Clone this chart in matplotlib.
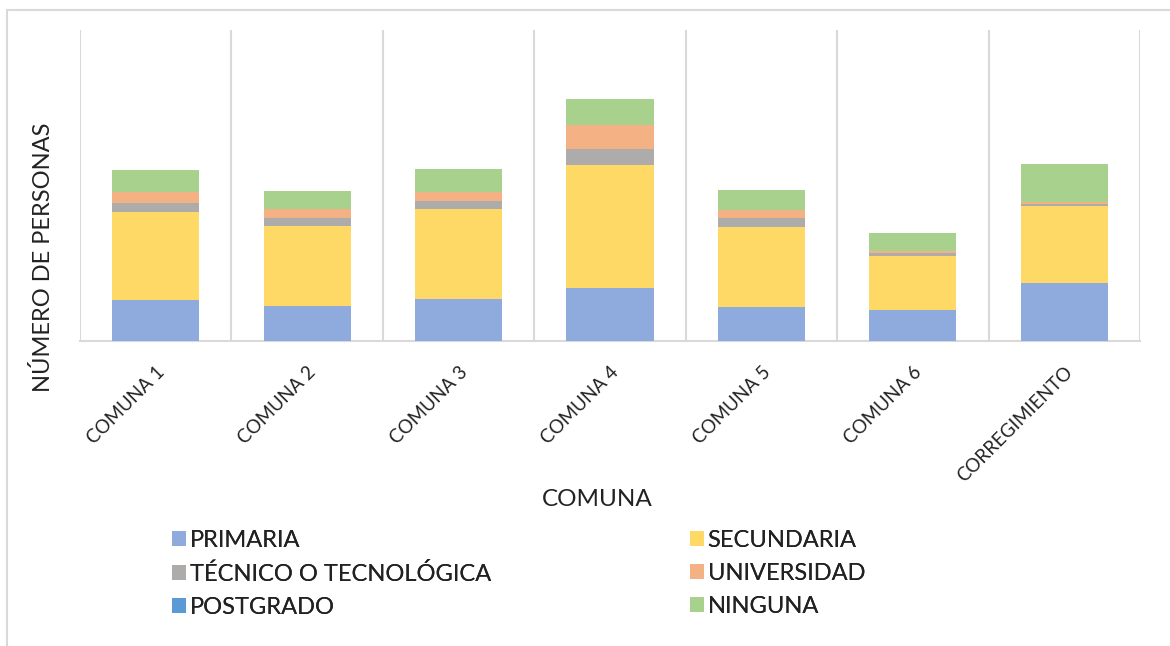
import matplotlib
matplotlib.use("Agg")
import matplotlib.pyplot as plt
from matplotlib.patches import Rectangle, Patch
import numpy as np

plt.rcParams['font.family'] = ['Lato', 'DejaVu Sans']

categories = ["COMUNA 1", "COMUNA 2", "COMUNA 3", "COMUNA 4", "COMUNA 5", "COMUNA 6", "CORREGIMIENTO"]
primaria = [40.7, 34.7, 41.7, 52.7, 33.7, 31.0, 58.0]
secundaria = [88.0, 80.0, 90.3, 123.0, 79.7, 53.7, 76.3]
tecnico = [9.3, 7.7, 8.0, 16.0, 9.3, 3.3, 2.7]
universidad = [10.7, 9.0, 8.7, 23.7, 8.3, 2.0, 1.7]
postgrado = [0.0, 0.0, 0.0, 0.0, 0.0, 0.0, 0.0]
ninguna = [22.0, 18.0, 22.7, 26.3, 19.7, 18.0, 38.0]

series = [
    ("PRIMARIA", primaria, "#8FAADC"),
    ("SECUNDARIA", secundaria, "#FFD966"),
    ("TÉCNICO O TECNOLÓGICA", tecnico, "#AEABAB"),
    ("UNIVERSIDAD", universidad, "#F4B183"),
    ("POSTGRADO", postgrado, "#5B9BD5"),
    ("NINGUNA", ninguna, "#A9D18E"),
]

W, H = 1170, 646
fig = plt.figure(figsize=(W / 100, H / 100), dpi=100)
ax = fig.add_axes([80 / W, 1 - 340.7 / H, 1060 / W, (340.7 - 30) / H])

x = np.arange(len(categories))
bottom = np.zeros(len(categories))
handles = {}
for name, vals, col in series:
    vals = np.array(vals)
    ax.bar(x, vals, width=0.575, bottom=bottom, color=col, edgecolor='none', zorder=3)
    bottom += vals
    handles[name] = Patch(facecolor=col, edgecolor='none')

ax.set_xlim(-0.5, len(categories) - 0.5)
ax.set_ylim(0, 310.7)
for b in np.arange(-0.5, len(categories), 1.0):
    ax.axvline(b, color='#d9d9d9', lw=1.5, zorder=1)

for s in ['top', 'right', 'left']:
    ax.spines[s].set_visible(False)
ax.spines['bottom'].set_color('#d9d9d9')
ax.spines['bottom'].set_linewidth(1.5)
ax.set_yticks([])
ax.set_xticks(x)
ax.set_xticklabels(categories, rotation=45, ha='right', rotation_mode='anchor',
                   fontsize=13.5, color='#222222')
ax.tick_params(axis='x', length=0, pad=16)

ax.set_ylabel("NÚMERO DE PERSONAS", fontsize=17, color='#222222')
ax.yaxis.set_label_coords(-0.025, 0.27)
fig.text(597 / W, 1 - 500 / H, "COMUNA", fontsize=17.5, color='#222222', ha='center', va='center')

col1 = ["PRIMARIA", "TÉCNICO O TECNOLÓGICA", "POSTGRADO"]
col2 = ["SECUNDARIA", "UNIVERSIDAD", "NINGUNA"]
for names, x0 in [(col1, 172), (col2, 690)]:
    leg = fig.legend([handles[n] for n in names], names, loc='upper left',
                     bbox_to_anchor=(x0 / W, 1 - 530 / H), frameon=False,
                     fontsize=17, handlelength=0.58, handleheight=0.58,
                     handletextpad=0.17, labelspacing=0.5, borderpad=0, borderaxespad=0,
                     labelcolor='#222222')
    fig.add_artist(leg)

fig.add_artist(Rectangle((7 / W, -0.2), 1.5, 1.2 - 9.5 / H, transform=fig.transFigure,
                         fill=False, ec='#d9d9d9', lw=1.5, clip_on=False))

fig.savefig("out.png", dpi=100, facecolor='white')
